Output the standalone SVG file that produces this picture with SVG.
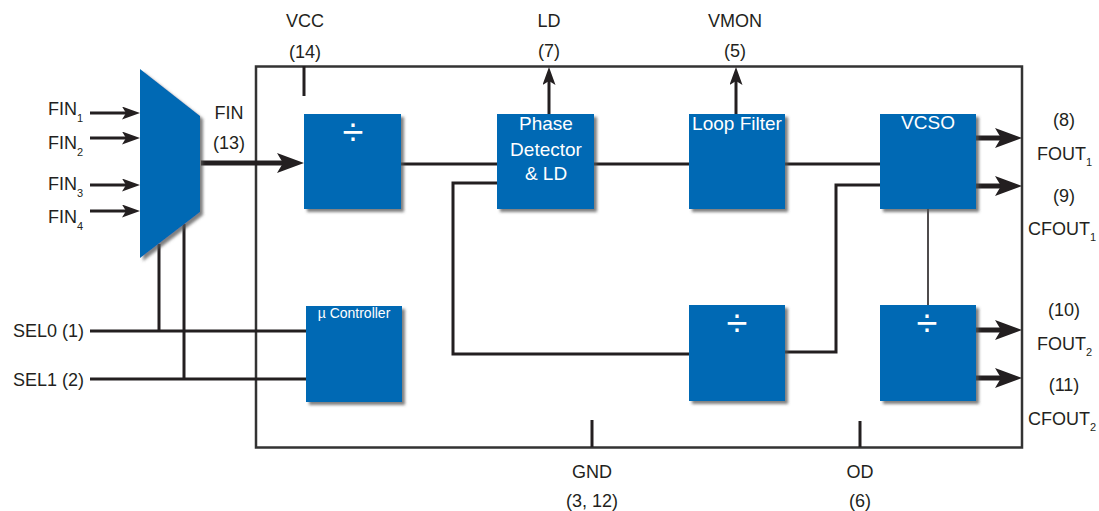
<svg xmlns="http://www.w3.org/2000/svg" width="1099" height="511" viewBox="0 0 1099 511">
<defs>
<style>
.blk{fill:#0069b4;filter:url(#sh)}
.wire{fill:none;stroke:#231f20;stroke-width:3}
.thin{fill:none;stroke:#231f20;stroke-width:1.6}
.thick{fill:none;stroke:#231f20;stroke-width:5}
.lbl{font-family:"Liberation Sans",Arial,sans-serif;font-size:18px;fill:#231f20}
.sub{font-size:11px}
.bt{font-family:"Liberation Sans",Arial,sans-serif;font-size:19px;fill:#ffffff;text-anchor:middle}
.dv{font-family:"Liberation Sans",Arial,sans-serif;font-size:38px;fill:#ffffff;text-anchor:middle}
.mid{text-anchor:middle}
</style>
<filter id="sh" x="-10%" y="-10%" width="130%" height="130%">
<feDropShadow dx="3" dy="3" stdDeviation="1.5" flood-color="#555" flood-opacity="0.75"/>
</filter>
<marker id="ah" markerUnits="userSpaceOnUse" markerWidth="27" markerHeight="20" refX="6" refY="10" orient="auto" viewBox="0 0 27 20">
<path d="M0,0 L27,10 L0,20 L6,10 z" fill="#231f20"/>
</marker>
<marker id="as" markerUnits="userSpaceOnUse" markerWidth="18" markerHeight="13" refX="4" refY="6.5" orient="auto" viewBox="0 0 18 13">
<path d="M0,0 L18,6.5 L0,13 L4,6.5 z" fill="#231f20"/>
</marker>
</defs>
<rect width="1099" height="511" fill="#ffffff"/>

<g id="chip">
<rect x="256" y="66.5" width="766" height="381" fill="none" stroke="#333333" stroke-width="2.5"/>
</g>

<g id="connectors">
<line class="wire" x1="90" y1="113" x2="126" y2="113" marker-end="url(#as)"/>
<line class="wire" x1="90" y1="138" x2="126" y2="138" marker-end="url(#as)"/>
<line class="wire" x1="90" y1="185" x2="126" y2="185" marker-end="url(#as)"/>
<line class="wire" x1="90" y1="211" x2="126" y2="211" marker-end="url(#as)"/>
<line class="thick" x1="201" y1="163" x2="283" y2="163" marker-end="url(#ah)"/>
<line class="wire" x1="90" y1="331" x2="306" y2="331"/>
<line class="wire" x1="159" y1="244" x2="159" y2="331"/>
<line class="wire" x1="90" y1="379" x2="306" y2="379"/>
<line class="wire" x1="184" y1="224" x2="184" y2="379"/>
<line class="wire" x1="304" y1="66" x2="304" y2="96"/>
<line class="wire" x1="592" y1="420" x2="592" y2="447"/>
<line class="wire" x1="860" y1="421" x2="860" y2="447"/>
<line class="wire" x1="549" y1="114" x2="549" y2="81" marker-end="url(#as)"/>
<line class="wire" x1="736" y1="114" x2="736" y2="81" marker-end="url(#as)"/>
<line class="wire" x1="401" y1="164" x2="497" y2="164"/>
<line class="wire" x1="594" y1="164" x2="689" y2="164"/>
<line class="wire" x1="785" y1="164" x2="880" y2="164"/>
<polyline class="wire" points="497,183 453,183 453,354 689,354"/>
<polyline class="wire" points="785,352 836,352 836,185 880,185"/>
<line class="thin" x1="928" y1="209" x2="928" y2="305"/>
<line class="thick" x1="976" y1="138" x2="1001" y2="138" marker-end="url(#ah)"/>
<line class="thick" x1="976" y1="186" x2="1001" y2="186" marker-end="url(#ah)"/>
<line class="thick" x1="976" y1="330" x2="1001" y2="330" marker-end="url(#ah)"/>
<line class="thick" x1="976" y1="378" x2="1001" y2="378" marker-end="url(#ah)"/>
</g>

<g id="mux">
<polygon class="blk" points="140,69 200,116 200,212 140,258"/>
</g>

<g id="div1">
<rect class="blk" x="304" y="114" width="97" height="95"/>
<text class="dv" x="353" y="145">÷</text>
</g>

<g id="phase-detector">
<rect class="blk" x="497" y="114" width="97" height="95"/>
<text class="bt" x="546" y="130">Phase</text>
<text class="bt" x="546" y="156">Detector</text>
<text class="bt" x="546" y="180">&amp; LD</text>
</g>

<g id="loop-filter">
<rect class="blk" x="689" y="114" width="96" height="95"/>
<text class="bt" x="737" y="130">Loop Filter</text>
</g>

<g id="vcso">
<rect class="blk" x="880" y="114" width="96" height="95"/>
<text class="bt" x="928" y="129">VCSO</text>
</g>

<g id="controller">
<rect class="blk" x="306" y="306" width="96" height="96"/>
<text class="bt" x="354" y="318" style="font-size:14px">µ Controller</text>
</g>

<g id="div2">
<rect class="blk" x="689" y="305" width="96" height="96"/>
<text class="dv" x="737" y="336">÷</text>
</g>

<g id="div3">
<rect class="blk" x="880" y="305" width="96" height="96"/>
<text class="dv" x="927" y="336">÷</text>
</g>

<g id="labels">
<text class="lbl" x="48" y="115">FIN<tspan class="sub" dy="7">1</tspan></text>
<text class="lbl" x="48" y="149">FIN<tspan class="sub" dy="7">2</tspan></text>
<text class="lbl" x="48" y="190">FIN<tspan class="sub" dy="7">3</tspan></text>
<text class="lbl" x="48" y="223">FIN<tspan class="sub" dy="7">4</tspan></text>
<text class="lbl mid" x="229" y="119">FIN</text>
<text class="lbl mid" x="229" y="149">(13)</text>
<text class="lbl" x="13" y="337">SEL0 (1)</text>
<text class="lbl" x="13" y="386">SEL1 (2)</text>
<text class="lbl mid" x="305" y="27">VCC</text>
<text class="lbl mid" x="305" y="58">(14)</text>
<text class="lbl mid" x="549" y="27">LD</text>
<text class="lbl mid" x="549" y="57">(7)</text>
<text class="lbl mid" x="735" y="27">VMON</text>
<text class="lbl mid" x="735" y="57">(5)</text>
<text class="lbl mid" x="592" y="478">GND</text>
<text class="lbl mid" x="592" y="507">(3, 12)</text>
<text class="lbl mid" x="860" y="478">OD</text>
<text class="lbl mid" x="860" y="507">(6)</text>
<text class="lbl mid" x="1064" y="126">(8)</text>
<text class="lbl" x="1037" y="160">FOUT<tspan class="sub" dy="6">1</tspan></text>
<text class="lbl mid" x="1064" y="202">(9)</text>
<text class="lbl" x="1028" y="235">CFOUT<tspan class="sub" dy="6">1</tspan></text>
<text class="lbl mid" x="1064" y="316">(10)</text>
<text class="lbl" x="1037" y="350">FOUT<tspan class="sub" dy="6">2</tspan></text>
<text class="lbl mid" x="1064" y="391">(11)</text>
<text class="lbl" x="1028" y="425">CFOUT<tspan class="sub" dy="6">2</tspan></text>
</g>
</svg>
